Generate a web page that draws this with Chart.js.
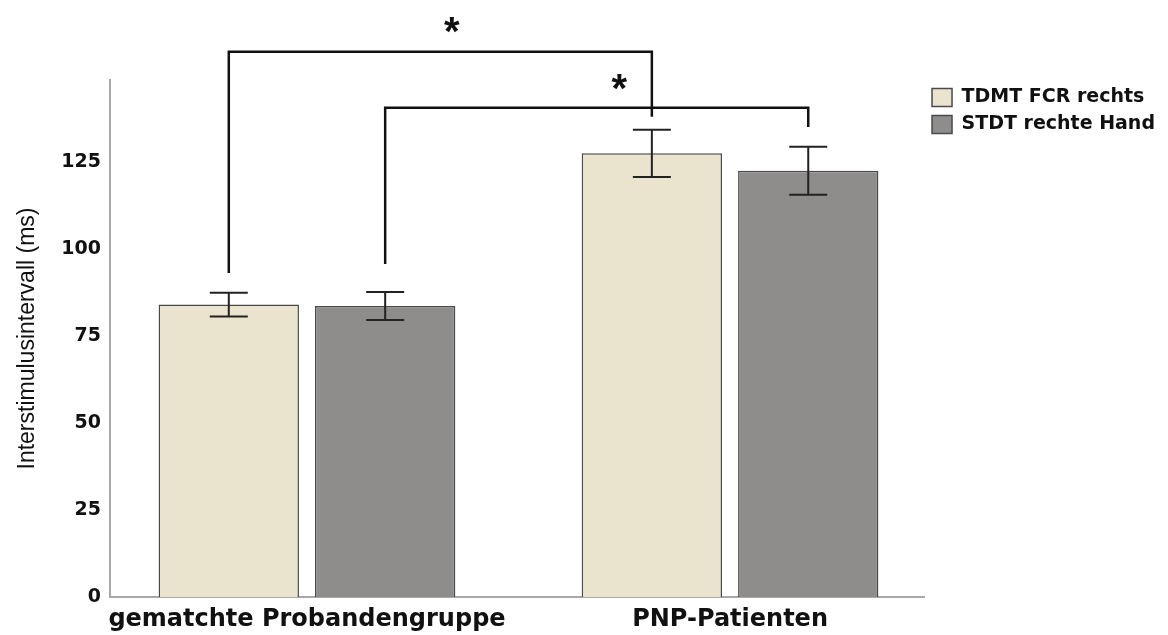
<!DOCTYPE html>
<html>
<head>
<meta charset="utf-8">
<script src="https://cdn.jsdelivr.net/npm/chart.js@4.4.1/dist/chart.umd.min.js"></script>
<style>
html, body { margin: 0; padding: 0; background: #fff; }
</style>
</head>
<body>
<canvas id="myChart" width="1168" height="635"></canvas>
<script>
var groups = ['gematchte Probandengruppe', 'PNP-Patienten'];
var seriesNames = ['TDMT FCR rechts', 'STDT rechte Hand'];
var tdmtValues = [84.1, 127.6];
var tdmtErrors = [3.4, 6.8];
var stdtValues = [83.7, 122.6];
var stdtErrors = [4.0, 6.9];
var yTicks = [0, 25, 50, 75, 100, 125];

// significance brackets: from [group, series] to [group, series], bar level, left leg end, right leg end
var bracketFrom = [[0, 0], [0, 1]];
var bracketTo = [[1, 0], [1, 1]];
var bracketLevel = [156.8, 140.7];
var bracketLeftEnd = [93.2, 95.8];
var bracketRightEnd = [138.1, 135.2];
// asterisks (x in group units, y in ms)
var starX = [0.342, 0.738];
var starY = [164.6, 148.2];

var FONT = "'Liberation Sans', Arial, sans-serif";
var WIDE = "'DejaVu Sans', sans-serif";
var ctx = document.getElementById('myChart').getContext('2d');

var errorBars = {
	id: 'errorBars',
	afterDatasetsDraw: function(chart) {
		var c = chart.ctx;
		var y = chart.scales.y;
		var errs = [tdmtErrors, stdtErrors];
		c.save();
		c.strokeStyle = '#222';
		c.lineWidth = 2;
		chart.data.datasets.forEach(function(ds, d) {
			chart.getDatasetMeta(d).data.forEach(function(bar, i) {
				var v = ds.data[i].y;
				var top = y.getPixelForValue(v + errs[d][i]);
				var bot = y.getPixelForValue(v - errs[d][i]);
				c.beginPath();
				c.moveTo(bar.x, top); c.lineTo(bar.x, bot);
				c.moveTo(bar.x - 19, top); c.lineTo(bar.x + 19, top);
				c.moveTo(bar.x - 19, bot); c.lineTo(bar.x + 19, bot);
				c.stroke();
			});
		});
		c.restore();
	},
	afterDraw: function(chart) {
		var c = chart.ctx;
		var x = chart.scales.x, y = chart.scales.y;
		c.save();
		c.strokeStyle = '#111';
		c.lineWidth = 2.5;
		for (var b = 0; b < bracketLevel.length; b++) {
			var x1 = chart.getDatasetMeta(bracketFrom[b][1]).data[bracketFrom[b][0]].x;
			var x2 = chart.getDatasetMeta(bracketTo[b][1]).data[bracketTo[b][0]].x;
			var yl = y.getPixelForValue(bracketLevel[b]);
			c.beginPath();
			c.moveTo(x1, y.getPixelForValue(bracketLeftEnd[b]));
			c.lineTo(x1, yl);
			c.lineTo(x2, yl);
			c.lineTo(x2, y.getPixelForValue(bracketRightEnd[b]));
			c.stroke();
		}
		c.fillStyle = '#111';
		c.font = 'bold 40px ' + FONT;
		c.textAlign = 'center';
		c.textBaseline = 'alphabetic';
		var m = c.measureText('*');
		var off = (m.actualBoundingBoxAscent - m.actualBoundingBoxDescent) / 2;
		for (var s = 0; s < starX.length; s++) {
			c.fillText('*', x.getPixelForValue(starX[s]), y.getPixelForValue(starY[s]) + off);
		}
		c.restore();
	}
};

var chart = new Chart(ctx, {
	type: 'bar',
	data: {
		datasets: [{
			label: seriesNames[0],
			data: tdmtValues.map(function(v, i) { return {x: i, y: v}; }),
			backgroundColor: '#eae3cd',
			borderColor: '#4a4a4a',
			borderWidth: 1.5,
			categoryPercentage: 0.7393,
			barPercentage: 0.8974
		}, {
			label: seriesNames[1],
			data: stdtValues.map(function(v, i) { return {x: i, y: v}; }),
			backgroundColor: '#8f8c8c',
			borderColor: '#4a4a4a',
			borderWidth: 1.5,
			categoryPercentage: 0.7393,
			barPercentage: 0.8974
		}]
	},
	options: {
		responsive: false,
		animation: false,
		layout: { padding: { top: 80, left: 5, right: 3, bottom: 0 } },
		plugins: {
			tooltip: { enabled: false },
			legend: {
				position: 'right',
				align: 'start',
				labels: {
					boxWidth: 20,
					boxHeight: 18,
					padding: 8,
					color: '#111',
					font: { family: WIDE, size: 19, weight: 'bold' }
				}
			}
		},
		scales: {
			x: {
				type: 'linear',
				offset: false,
				min: -0.4656,
				max: 1.4585,
				afterBuildTicks: function(scale) {
					scale.ticks = groups.map(function(g, i) { return {value: i}; });
				},
				afterFit: function(scale) { scale.height = 38; },
				grid: { display: false, drawTicks: false },
				border: { display: true, color: '#a8a8a8', width: 2 },
				ticks: {
					padding: 8,
					color: '#111',
					font: { family: WIDE, size: 24, weight: 'bold' },
					callback: function(v) { return groups[v]; }
				}
			},
			y: {
				min: 0,
				max: 148.7,
				afterBuildTicks: function(scale) {
					scale.ticks = yTicks.map(function(v) { return {value: v}; });
				},
				afterFit: function(scale) { scale.width = 105; },
				grid: { display: false, drawTicks: false },
				border: { display: true, color: '#a8a8a8', width: 2 },
				ticks: {
					padding: 9,
					color: '#111',
					font: { family: WIDE, size: 19, weight: 'bold' }
				},
				title: {
					display: true,
					text: 'Interstimulusintervall (ms)',
					color: '#111',
					padding: { top: 9, bottom: 0 },
					font: { family: FONT, size: 23 }
				}
			}
		}
	},
	plugins: [errorBars]
});
</script>
</body>
</html>
